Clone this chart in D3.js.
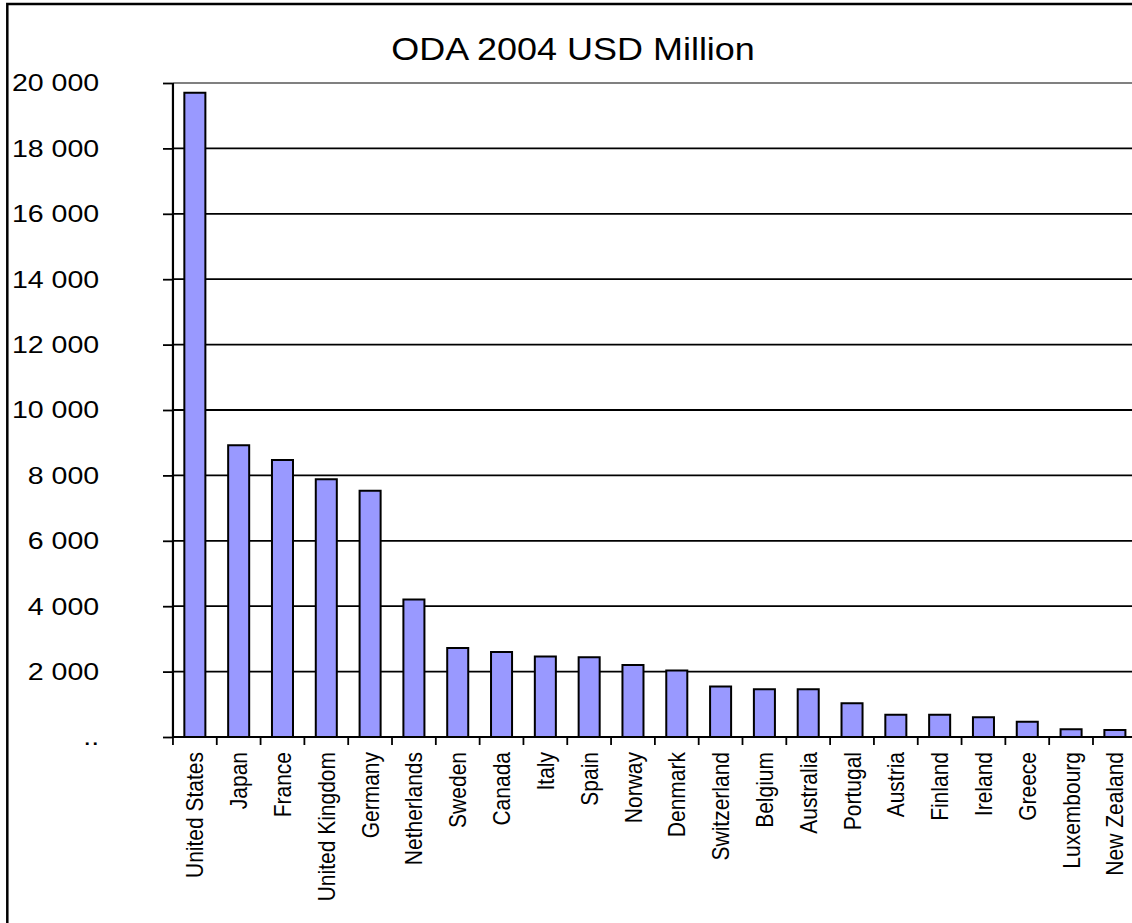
<!DOCTYPE html>
<html>
<head>
<meta charset="utf-8">
<script src="https://cdn.jsdelivr.net/npm/d3@7"></script>
<style>
  html, body { margin: 0; padding: 0; background: #fff; overflow: hidden; }
  svg { display: block; font-family: "Liberation Sans", Arial, sans-serif; }
  .line { vector-effect: non-scaling-stroke; }
</style>
</head>
<body>
<script>
// data
var countries = ["United States", "Japan", "France", "United Kingdom", "Germany",
    "Netherlands", "Sweden", "Canada", "Italy", "Spain", "Norway", "Denmark",
    "Switzerland", "Belgium", "Australia", "Portugal", "Austria", "Finland",
    "Ireland", "Greece", "Luxembourg", "New Zealand"];
var oda = [19705, 8922, 8473, 7883, 7534, 4204, 2722, 2599, 2462, 2437, 2199, 2037,
    1545, 1463, 1460, 1031, 678, 680, 607, 465, 236, 212];
var yTicks = [0, 2000, 4000, 6000, 8000, 10000, 12000, 14000, 16000, 18000, 20000];
var yTickLabels = ["..", "2 000", "4 000", "6 000", "8 000", "10 000", "12 000",
    "14 000", "16 000", "18 000", "20 000"];
var title = "ODA 2004 USD Million";

// the picture is stretched sideways, so draw in a narrower box and let the viewBox widen it
var width = 1132,
    height = 923,
    stretch = 1.16,
    vbWidth = width / stretch,
    axisX = 149.1,
    plotRight = 980,
    plotTop = 83,
    plotBottom = 737;

var svg = d3.select("body")
    .append("svg")
    .attr("width", width)
    .attr("height", height)
    .attr("viewBox", "0 0 " + vbWidth + " " + height)
    .attr("preserveAspectRatio", "none");

// outer frame (runs off the right and bottom edges)
svg.append("rect")
    .attr("class", "line")
    .attr("x", 6.3)
    .attr("y", 4)
    .attr("width", vbWidth + 20)
    .attr("height", height + 20)
    .attr("fill", "white")
    .attr("stroke", "black")
    .attr("stroke-width", 2.5);

var x = d3.scaleBand()
    .domain(countries)
    .range([axisX, plotRight])
    .paddingInner(0.52)
    .paddingOuter(0.26);

var y = d3.scaleLinear()
    .domain([0, 20000])
    .range([plotBottom, plotTop]);

// title
svg.append("text")
    .attr("x", 494)
    .attr("y", 60.5)
    .attr("text-anchor", "middle")
    .style("font-size", "31px")
    .text(title);

// gridlines
svg.selectAll("line.grid")
    .data(yTicks.filter(function(d) { return d > 0; }))
    .enter()
    .append("line")
        .attr("class", "grid line")
        .attr("x1", axisX)
        .attr("x2", vbWidth + 5)
        .attr("y1", function(d) { return y(d); })
        .attr("y2", function(d) { return y(d); })
        .attr("stroke", function(d) { return d === 20000 ? "#808080" : "black"; })
        .attr("stroke-width", 1.8);

// bars
svg.selectAll("rect.bar")
    .data(countries)
    .enter()
    .append("rect")
        .attr("class", "bar line")
        .attr("x", function(d) { return x(d); })
        .attr("y", function(d, i) { return y(oda[i]); })
        .attr("width", x.bandwidth())
        .attr("height", function(d, i) { return plotBottom - y(oda[i]); })
        .attr("fill", "#9999FF")
        .attr("stroke", "black")
        .attr("stroke-width", 2);

// y axis
var yAxis = d3.axisLeft(y)
    .tickValues(yTicks)
    .tickFormat(function(d, i) { return yTickLabels[i]; })
    .tickSize(8.6)
    .tickPadding(55);

var yg = svg.append("g")
    .attr("transform", "translate(" + axisX + ",0)")
    .call(yAxis);
yg.select(".domain").remove();
yg.selectAll("line").attr("class", "line").attr("stroke", "black").attr("stroke-width", 1.8);
yg.selectAll("text")
    .style("font-size", "24.6px")
    .attr("fill", "black")
    .attr("font-family", "Liberation Sans, Arial, sans-serif");

svg.append("line")
    .attr("class", "line")
    .attr("x1", axisX).attr("x2", axisX)
    .attr("y1", plotTop).attr("y2", plotBottom)
    .attr("stroke", "black")
    .attr("stroke-width", 2.2);

// x axis line and boundary ticks
svg.append("line")
    .attr("class", "line")
    .attr("x1", axisX).attr("x2", vbWidth + 5)
    .attr("y1", plotBottom).attr("y2", plotBottom)
    .attr("stroke", "black")
    .attr("stroke-width", 2.2);

var step = x.step();
svg.selectAll("line.xtick")
    .data(d3.range(countries.length + 1))
    .enter()
    .append("line")
        .attr("class", "xtick line")
        .attr("x1", function(i) { return axisX + i * step; })
        .attr("x2", function(i) { return axisX + i * step; })
        .attr("y1", plotBottom)
        .attr("y2", plotBottom + 8)
        .attr("stroke", "black")
        .attr("stroke-width", 1.8);

// category labels
svg.selectAll("text.cat")
    .data(countries)
    .enter()
    .append("text")
        .attr("class", "cat")
        .attr("transform", function(d) {
            return "translate(" + (x(d) + x.bandwidth() / 2) + "," + 752 + ") rotate(-90)";
        })
        .attr("dy", "0.35em")
        .attr("text-anchor", "end")
        .style("font-size", "21px")
        .text(function(d) { return d; });
</script>
</body>
</html>
